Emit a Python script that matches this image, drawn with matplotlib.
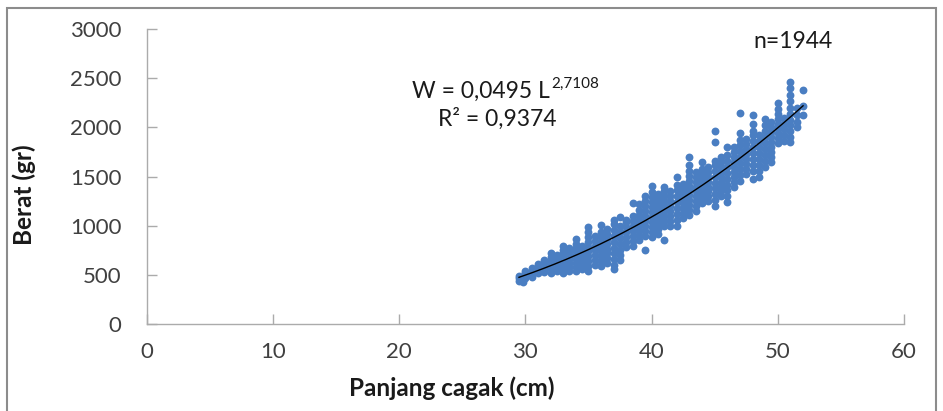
import numpy as np
from matplotlib import pyplot as plt
from matplotlib.patches import Rectangle

# panjang cagak (cm) tiap kolom titik, dan berat (gr) yang terbaca di kolom itu
panjang = [29.5, 29.8, 30.0, 30.5, 31.0, 31.5, 32.0, 32.5, 33.0, 33.5,
           34.0, 34.5, 35.0, 35.5, 36.0, 36.5, 37.0, 37.5, 38.0, 38.5,
           39.0, 39.5, 40.0, 40.5, 41.0, 41.5, 42.0, 42.5, 43.0, 43.5,
           44.0, 44.5, 45.0, 45.5, 46.0, 46.5, 47.0, 47.5, 48.0, 48.5,
           49.0, 49.5, 50.0, 50.5, 51.0, 51.5, 52.0]
berat = [
    [440, 470, 490],
    [430, 455],
    [470, 500, 520, 545],
    [480, 510, 540, 570],
    [520, 550, 580, 610],
    [530, 560, 590, 620, 650],
    [520, 560, 600, 640, 680, 720],
    [540, 580, 620, 660, 700],
    [520, 560, 600, 640, 680, 720, 760, 800],
    [540, 580, 620, 660, 700, 740, 780],
    [540, 580, 620, 660, 700, 740, 780, 820, 870],
    [560, 600, 640, 680, 720, 760, 800],
    [540, 590, 640, 690, 740, 790, 840, 890, 940, 990],
    [600, 650, 700, 750, 800, 850, 900],
    [590, 640, 690, 740, 790, 840, 890, 940, 1010],
    [620, 670, 720, 770, 820, 870, 920, 970],
    [560, 600, 660, 720, 780, 840, 900, 960, 1020, 1060],
    [650, 700, 760, 820, 880, 940, 1000, 1090],
    [790, 840, 890, 940, 990, 1040, 1060],
    [800, 850, 900, 950, 1000, 1050, 1100, 1230],
    [860, 910, 960, 1010, 1060, 1110, 1160, 1220],
    [750, 900, 950, 1000, 1050, 1100, 1150, 1200, 1250, 1300],
    [890, 940, 990, 1040, 1090, 1140, 1190, 1240, 1290, 1340, 1410],
    [920, 970, 1020, 1070, 1120, 1170, 1220, 1270, 1320],
    [860, 1000, 1050, 1100, 1150, 1200, 1250, 1300, 1350, 1390],
    [1000, 1050, 1100, 1150, 1200, 1250, 1300, 1350],
    [1000, 1060, 1120, 1180, 1240, 1300, 1360, 1420, 1500],
    [1080, 1130, 1180, 1230, 1280, 1330, 1380, 1430],
    [1110, 1160, 1210, 1260, 1310, 1360, 1410, 1460, 1510, 1560, 1620, 1700],
    [1150, 1200, 1250, 1300, 1350, 1400, 1450, 1500, 1550],
    [1230, 1280, 1330, 1380, 1430, 1480, 1530, 1580, 1650],
    [1250, 1300, 1350, 1400, 1450, 1500, 1550, 1600],
    [1200, 1260, 1320, 1380, 1440, 1500, 1560, 1620, 1660, 1850, 1960],
    [1300, 1350, 1400, 1450, 1500, 1550, 1600, 1650, 1700],
    [1240, 1300, 1360, 1420, 1480, 1540, 1600, 1660, 1720, 1800],
    [1400, 1450, 1500, 1550, 1600, 1650, 1700, 1750, 1800],
    [1460, 1520, 1580, 1640, 1700, 1760, 1820, 1870, 1940, 2150],
    [1530, 1580, 1630, 1680, 1730, 1780, 1830, 1880],
    [1480, 1560, 1620, 1680, 1740, 1800, 1860, 1920, 1960, 2030, 2130],
    [1500, 1560, 1620, 1680, 1740, 1800, 1860, 1920],
    [1600, 1660, 1720, 1780, 1840, 1900, 1960, 2020, 2090],
    [1650, 1700, 1750, 1800, 1850, 1900, 1950, 2000, 2060],
    [1840, 1890, 1940, 1990, 2040, 2090, 2140, 2190, 2250],
    [1860, 1920, 1980, 2040, 2100],
    [1850, 1900, 1960, 2020, 2080, 2140, 2200, 2270, 2330, 2400, 2460],
    [2000, 2060, 2130, 2200],
    [2130, 2220, 2380],
]

# persamaan trendline yang tertulis di grafik: W = a L^b
koef_a = 0.0495
koef_b = 2.7108

plt.rcParams["font.family"] = ["Lato", "DejaVu Sans"]

x = np.concatenate([[p] * len(b) for p, b in zip(panjang, berat)])
y = np.concatenate(berat)

fig = plt.figure(figsize=(9.43, 4.11), dpi=100)
ax = fig.add_axes([0.1554, 0.2109, 0.8033, 0.7185])

ax.scatter(x, y, s=32, color="#4A7EC2", linewidths=0, zorder=2)

L = np.linspace(min(panjang), max(panjang), 200)
ax.plot(L, koef_a * L ** koef_b, color="black", lw=1.0, zorder=3)

ax.set_xlim(0, 60)
ax.set_ylim(0, 3000)
ax.set_xticks(range(0, 61, 10))
ax.set_yticks(range(0, 3001, 500))

for s in ["top", "right"]:
    ax.spines[s].set_visible(False)
for s in ["left", "bottom"]:
    ax.spines[s].set_color("#ABABAB")
    ax.spines[s].set_linewidth(1.0)
ax.tick_params(direction="in", length=7, width=1, color="#ABABAB",
               labelsize=16, labelcolor="#404040")
ax.tick_params(axis="x", pad=13)
ax.tick_params(axis="y", pad=18)

ax.set_xlabel("Panjang cagak (cm)", fontsize=17.5, fontweight="bold",
              color="#1a1a1a")
ax.set_ylabel("Berat (gr)", fontsize=17.5, fontweight="bold",
              color="#1a1a1a")
ax.xaxis.set_label_coords(0.403, -0.178)
ax.yaxis.set_label_coords(-0.146, 0.438)

t = ax.text(26.5, 2370, "W = 0,0495 L", fontsize=16.5, color="#1a1a1a",
            ha="center", va="center")
ax.annotate("2,7108", xy=(1.01, 0.52), xycoords=t, fontsize=11,
            color="#1a1a1a", va="bottom", ha="left")
ax.text(27.8, 2086, "R² = 0,9374", fontsize=16.5, color="#1a1a1a",
        ha="center", va="center")
ax.text(51.2, 2878, "n=1944", fontsize=16.5, color="#1a1a1a",
        ha="center", va="center")

# bingkai abu-abu di sekeliling grafik
fig.patches.append(Rectangle((7 / 943, -0.02), 929 / 943, 1.02 - 8 / 411,
                             transform=fig.transFigure, fill=False,
                             edgecolor="#8C8C8C", lw=1.5))

fig.savefig("out.png")
